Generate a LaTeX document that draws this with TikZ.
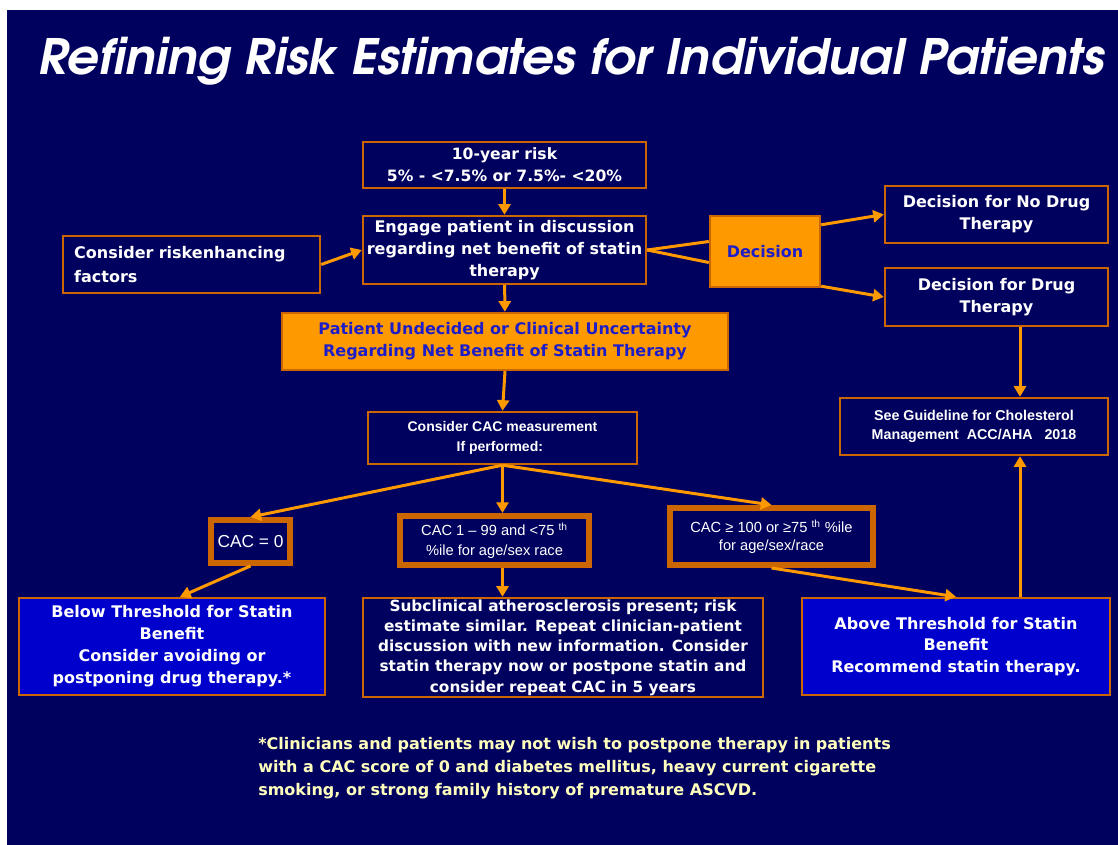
\documentclass[tikz,border=0pt]{standalone}
\usepackage{fontspec}
\setmainfont{DejaVu Sans}
\newfontfamily\lib{Liberation Sans}
\newfontfamily\ttl[Extension=.otf]{texgyreadventor-bolditalic}
\usetikzlibrary{arrows.meta,calc}
\definecolor{navy}{RGB}{0,0,94}
\definecolor{org}{RGB}{255,153,0}
\definecolor{brd}{RGB}{204,102,0}
\definecolor{bfill}{RGB}{0,0,204}
\definecolor{btxt}{RGB}{30,30,200}
\definecolor{note}{RGB}{255,255,190}
\begin{document}
\begin{tikzpicture}[x=0.75pt,y=-0.75pt,
  box/.style={draw=brd,line width=1.8pt,fill=navy,text=white,
    font=\bfseries\fontsize{12}{16.5}\selectfont,align=center,inner sep=0pt},
  obox/.style={box,fill=org,text=btxt},
  bbox/.style={box,fill=bfill},
  cbox/.style={box,line width=4.5pt,font=\lib\fontsize{11}{15}\selectfont},
  arr/.style={draw=org,line width=2.25pt,-{Triangle[length=8pt,width=9pt]}},
  ln/.style={draw=org,line width=2.25pt}]
\useasboundingbox (0,0) rectangle (1118,845);
\fill[white] (0,0) rectangle (1118,845);
\fill[navy] (7,10) rectangle (1118,845);

\node[anchor=base west,inner sep=0pt,text=white] (title) at (38,75)
  {\resizebox{800pt}{28pt}{\ttl\fontsize{40}{40}\selectfont Refining Risk Estimates for Individual Patients}};

\node[box,minimum width=212.25pt,minimum height=34.5pt,font=\bfseries\fontsize{11.7}{16.5}\selectfont] (risk) at (504.5,165)
  {10-year risk\\5\% - <7.5\% or 7.5\%- <20\%};
\node[box,minimum width=212.25pt,minimum height=51pt] (engage) at (504.5,250)
  {Engage patient in discussion\\regarding net benefit of statin\\therapy};
\node[box,minimum width=192.75pt,minimum height=42.75pt,align=left,text width=176pt,
  font=\bfseries\fontsize{12}{18}\selectfont] (factors) at (191.5,264.5)
  {Consider riskenhancing\\factors};
\node[obox,minimum width=82.5pt,minimum height=53.25pt] (decision) at (765,251.5) {Decision};
\node[box,minimum width=167.25pt,minimum height=42.75pt] (nodrug) at (996.5,214.5)
  {Decision for No Drug\\Therapy};
\node[box,minimum width=167.25pt,minimum height=43.5pt] (drug) at (996.5,297)
  {Decision for Drug\\Therapy};
\node[box,minimum width=201pt,minimum height=42.75pt,font=\lib\bfseries\fontsize{10.7}{14.25}\selectfont] (guide) at (974,426.5)
  {See Guideline for Cholesterol\\Management\ \ ACC/AHA\ \ \ 2018};
\node[obox,minimum width=334.5pt,minimum height=42.75pt] (undecided) at (505,341.5)
  {Patient Undecided or Clinical Uncertainty\\Regarding Net Benefit of Statin Therapy};
\node[box,minimum width=201.75pt,minimum height=39pt,font=\lib\bfseries\fontsize{10.5}{15}\selectfont] (cacm) at (502.5,438)
  {Consider CAC measurement\\If performed:\hspace*{4pt}};
\node[cbox,minimum width=59.25pt,minimum height=32.25pt,font=\lib\fontsize{13}{15}\selectfont] (cac0) at (250.5,541.5)
  {CAC = 0};
\node[cbox,minimum width=141.75pt,minimum height=36.75pt] (cac1) at (494.5,540.5)
  {CAC 1 – 99 and <75 \textsuperscript{th}\\\%ile for age/sex race};
\node[cbox,minimum width=152.25pt,minimum height=42.75pt,font=\lib\fontsize{11}{13.5}\selectfont] (cac100) at (771.5,536.5)
  {CAC ≥ 100 or ≥75 \textsuperscript{th} \%ile\\for age/sex/race};
\node[bbox,minimum width=229.5pt,minimum height=72.75pt] (below) at (172,646.5)
  {Below Threshold for Statin\\Benefit\\Consider avoiding or\\postponing drug therapy.*};
\node[box,minimum width=300pt,minimum height=74.25pt,font=\bfseries\fontsize{11.5}{15.2}\selectfont] (subclin) at (563,647.5)
  {Subclinical atherosclerosis present; risk\\estimate similar. Repeat clinician-patient\\discussion with new information. Consider\\statin therapy now or postpone statin and\\consider repeat CAC in 5 years};
\node[bbox,minimum width=231pt,minimum height=72.75pt,font=\bfseries\fontsize{12}{16}\selectfont] (above) at (956,646.5)
  {Above Threshold for Statin\\Benefit\\Recommend statin therapy.};

\node[anchor=north west,inner sep=0pt,align=left,text=note,
  font=\bfseries\fontsize{12}{17.25}\selectfont] (note) at (258,737)
  {*Clinicians and patients may not wish to postpone therapy in patients\\
   with a CAC score of 0 and diabetes mellitus, heavy current cigarette\\
   smoking, or strong family history of premature ASCVD.};

\coordinate (gx) at (1020,0);
\draw[arr] (risk) -- (engage);
\draw[arr] (factors.east) -- (engage.west);
\draw[ln] (engage.east) -- ($(decision.west)+(0,-10)$);
\draw[ln] (engage.east) -- ($(decision.west)+(0,11)$);
\draw[arr] ($(decision.north east)+(0,10)$) -- (nodrug.west);
\draw[arr] ($(decision.south east)+(0,-2)$) -- (drug.west);
\draw[arr] (drug.south -| gx) -- (guide.north -| gx);
\draw[arr] (above.north -| gx) -- (guide.south -| gx);
\draw[arr] (engage) -- (undecided);
\draw[arr] (undecided.south) -- (cacm.north);
\draw[arr] (cacm.south) -- (cac0.north);
\draw[arr] (cacm.south) -- (cacm.south |- cac1.north);
\draw[arr] (cacm.south) -- (cac100.north);
\draw[arr] (cac0.south) -- ($(below.north)+(8,0)$);
\draw[arr] (cac1.south -| cacm.south) -- (subclin.north -| cacm.south);
\draw[arr] (cac100.south) -- (above.north);
\end{tikzpicture}
\end{document}
